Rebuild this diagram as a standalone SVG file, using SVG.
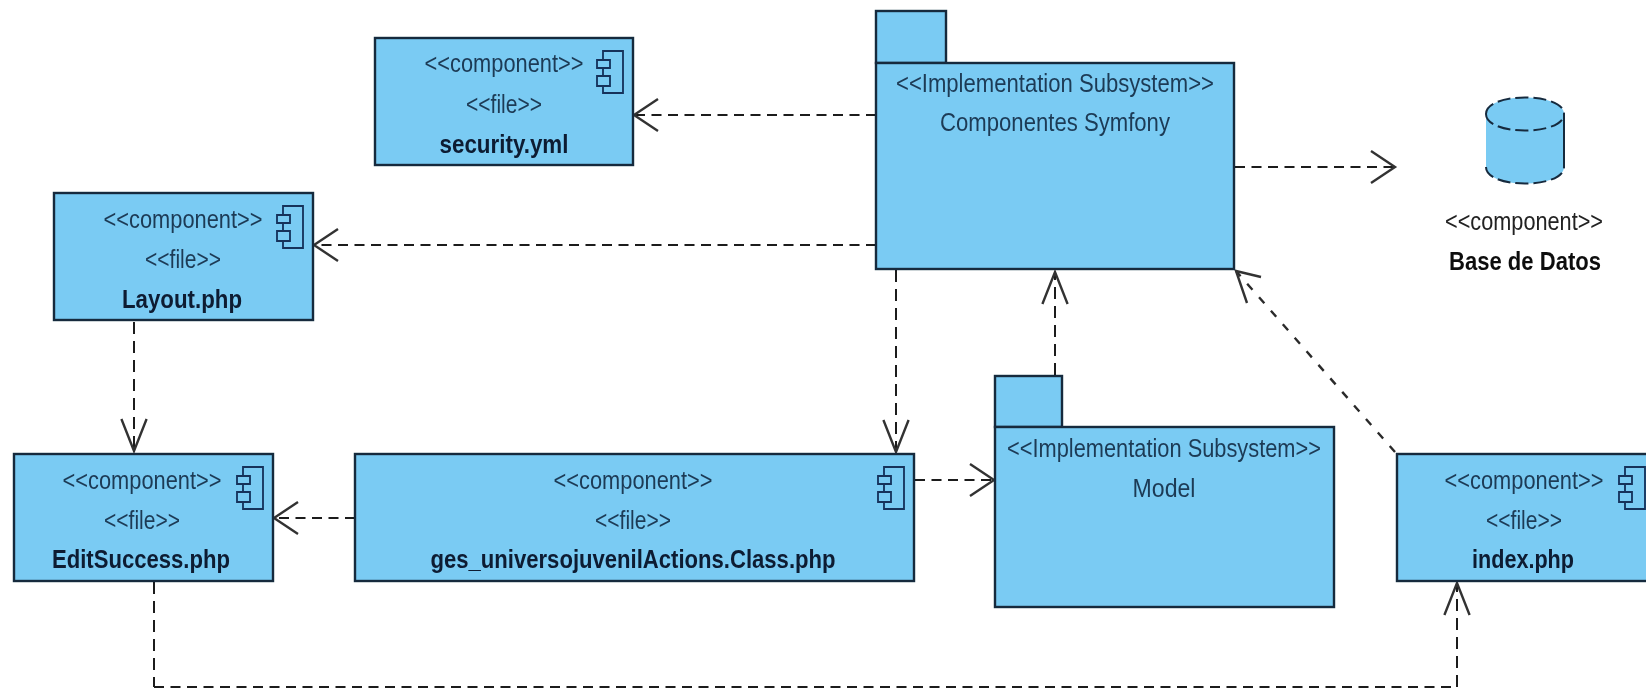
<svg xmlns="http://www.w3.org/2000/svg" width="1646" height="689" viewBox="0 0 1646 689">
<style>
.box{fill:#7acbf3;stroke:#16293d;stroke-width:2.4}
.ico{fill:#7acbf3;stroke:#14305a;stroke-width:1.8}
.dep{fill:none;stroke:#1a1a1a;stroke-width:2}
.h{stroke-dasharray:10 6.5}
.v{stroke-dasharray:12 7}
.d{stroke-dasharray:8 10;stroke-width:2.4;stroke:#2a2a2a}
.st{font-family:"Liberation Sans",Arial,sans-serif;font-size:25px;fill:#1d3a55;text-anchor:middle}
.nm{font-family:"Liberation Sans",Arial,sans-serif;font-size:25px;font-weight:bold;fill:#0d1c33;text-anchor:middle}
.cy{fill:none;stroke:#16293d;stroke-width:2}
.dash{stroke-dasharray:13 5}
</style>
<defs>
<filter id="soft" filterUnits="userSpaceOnUse" x="0" y="0" width="1646" height="689"><feGaussianBlur stdDeviation="0.45"/></filter>
<marker id="openH" markerUnits="userSpaceOnUse" markerWidth="30" markerHeight="40" refX="25" refY="20" orient="auto">
<path d="M1 4L25 20L1 36" fill="none" stroke="#333" stroke-width="2.4"/>
</marker>
<marker id="openV" markerUnits="userSpaceOnUse" markerWidth="38" markerHeight="40" refX="33" refY="20" orient="auto">
<path d="M1 7.4L33 20L1 32.6" fill="none" stroke="#333" stroke-width="2.4"/>
</marker>
<marker id="openD" markerUnits="userSpaceOnUse" markerWidth="40" markerHeight="45" refX="5" refY="5" orient="0">
<path d="M30 11L5 5L16 37" fill="none" stroke="#333" stroke-width="2.4"/>
</marker>
<g id="icon">
<path class="ico" d="M-30 13H-10V55H-30Z"/>
<path class="ico" d="M-36 22H-23V30H-36Z"/>
<path class="ico" d="M-36 38H-23V48H-36Z"/>
</g>
</defs>
<rect width="1646" height="689" fill="#fff"/>
<g filter="url(#soft)">
<g id="connectors">
<path class="dep h" marker-end="url(#openH)" d="M876 115H634"/>
<path class="dep h" marker-end="url(#openH)" d="M876 245H314"/>
<path class="dep h" marker-end="url(#openH)" d="M1235 167H1395"/>
<path class="dep v" marker-end="url(#openV)" d="M896 270V452"/>
<path class="dep v" marker-end="url(#openV)" d="M1055 375V272"/>
<path class="dep d" marker-end="url(#openD)" d="M1395 452L1236 271"/>
<path class="dep h" marker-end="url(#openH)" d="M915 480H994"/>
<path class="dep h" marker-end="url(#openH)" d="M355 518H274"/>
<path class="dep v" marker-end="url(#openV)" d="M134 322V451"/>
<path class="dep v" d="M154 582V687"/>
<path class="dep h" d="M154 687H1457"/>
<path class="dep v" marker-end="url(#openV)" d="M1457 687V583"/>
</g>
<g id="security">
<rect class="box" x="375" y="38" width="258" height="127"/>
<use href="#icon" x="633" y="38"/>
<text class="st" x="504" y="72" textLength="159" lengthAdjust="spacingAndGlyphs">&lt;&lt;component&gt;&gt;</text>
<text class="st" x="504" y="113" textLength="76" lengthAdjust="spacingAndGlyphs">&lt;&lt;file&gt;&gt;</text>
<text class="nm" x="504" y="153" textLength="129" lengthAdjust="spacingAndGlyphs">security.yml</text>
</g>
<g id="layout">
<rect class="box" x="54" y="193" width="259" height="127"/>
<use href="#icon" x="313" y="193"/>
<text class="st" x="183" y="228" textLength="159" lengthAdjust="spacingAndGlyphs">&lt;&lt;component&gt;&gt;</text>
<text class="st" x="183" y="268" textLength="76" lengthAdjust="spacingAndGlyphs">&lt;&lt;file&gt;&gt;</text>
<text class="nm" x="182" y="308" textLength="120" lengthAdjust="spacingAndGlyphs">Layout.php</text>
</g>
<g id="editsuccess">
<rect class="box" x="14" y="454" width="259" height="127"/>
<use href="#icon" x="273" y="454"/>
<text class="st" x="142" y="489" textLength="159" lengthAdjust="spacingAndGlyphs">&lt;&lt;component&gt;&gt;</text>
<text class="st" x="142" y="529" textLength="76" lengthAdjust="spacingAndGlyphs">&lt;&lt;file&gt;&gt;</text>
<text class="nm" x="141" y="568" textLength="178" lengthAdjust="spacingAndGlyphs">EditSuccess.php</text>
</g>
<g id="actions">
<rect class="box" x="355" y="454" width="559" height="127"/>
<use href="#icon" x="914" y="454"/>
<text class="st" x="633" y="489" textLength="159" lengthAdjust="spacingAndGlyphs">&lt;&lt;component&gt;&gt;</text>
<text class="st" x="633" y="529" textLength="76" lengthAdjust="spacingAndGlyphs">&lt;&lt;file&gt;&gt;</text>
<text class="nm" x="633" y="568" textLength="405" lengthAdjust="spacingAndGlyphs">ges_universojuvenilActions.Class.php</text>
</g>
<g id="index">
<rect class="box" x="1397" y="454" width="259" height="127"/>
<use href="#icon" x="1655" y="454"/>
<text class="st" x="1524" y="489" textLength="159" lengthAdjust="spacingAndGlyphs">&lt;&lt;component&gt;&gt;</text>
<text class="st" x="1524" y="529" textLength="76" lengthAdjust="spacingAndGlyphs">&lt;&lt;file&gt;&gt;</text>
<text class="nm" x="1523" y="568" textLength="102" lengthAdjust="spacingAndGlyphs">index.php</text>
</g>
<g id="componentes-symfony">
<rect class="box" x="876" y="11" width="70" height="52"/>
<rect class="box" x="876" y="63" width="358" height="206"/>
<text class="st" x="1055" y="92" textLength="318" lengthAdjust="spacingAndGlyphs">&lt;&lt;Implementation Subsystem&gt;&gt;</text>
<text class="st" x="1055" y="131" textLength="230" lengthAdjust="spacingAndGlyphs">Componentes Symfony</text>
</g>
<g id="model">
<rect class="box" x="995" y="376" width="67" height="51"/>
<rect class="box" x="995" y="427" width="339" height="180"/>
<text class="st" x="1164" y="457" textLength="314" lengthAdjust="spacingAndGlyphs">&lt;&lt;Implementation Subsystem&gt;&gt;</text>
<text class="st" x="1164" y="497" textLength="63" lengthAdjust="spacingAndGlyphs">Model</text>
</g>
<g id="base-de-datos">
<path d="M1486 114C1486 92 1564 92 1564 114V167C1564 189 1486 189 1486 167Z" fill="#7acbf3"/>
<path class="cy dash" d="M1486 114C1486 92 1564 92 1564 114"/>
<path class="cy dash" d="M1486 114C1486 136 1564 136 1564 114"/>
<path class="cy" d="M1564 114V167"/>
<path class="cy dash" d="M1486 167C1486 189 1564 189 1564 167"/>
<text class="st" x="1524" y="230" textLength="158" lengthAdjust="spacingAndGlyphs" style="fill:#222">&lt;&lt;component&gt;&gt;</text>
<text class="nm" x="1525" y="270" textLength="152" lengthAdjust="spacingAndGlyphs" style="fill:#111">Base de Datos</text>
</g>
</g>
</svg>
